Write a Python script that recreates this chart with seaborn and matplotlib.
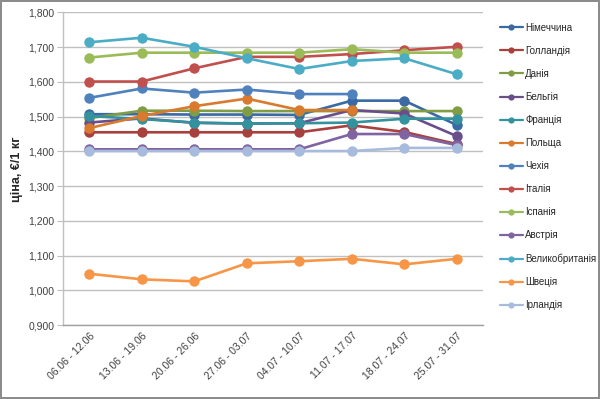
"""
weekly prices by country, line chart with markers (excel-like look)
"""
import matplotlib
matplotlib.use('Agg')
import matplotlib.pyplot as plt
import numpy as np
import pandas as pd
import seaborn as sns

sns.set_style('white')
plt.rcParams['font.family'] = ['Liberation Sans', 'DejaVu Sans']

weeks = ['06.06 - 12.06', '13.06 - 19.06', '20.06 - 26.06', '27.06 - 03.07',
         '04.07 - 10.07', '11.07 - 17.07', '18.07 - 24.07', '25.07 - 31.07']

countries = ['Німеччина', 'Голландія', 'Данія', 'Бельгія', 'Франція', 'Польща',
             'Чехія', 'Італія', 'Іспанія', 'Австрія', 'Великобританія', 'Швеція',
             'Ірландія']

germany = [1.507, 1.507, 1.506, 1.506, 1.505, 1.546, 1.546, 1.476]
netherlands = [1.455, 1.455, 1.455, 1.455, 1.455, 1.475, 1.456, 1.421]
denmark = [1.496, 1.517, 1.517, 1.516, 1.516, 1.516, 1.516, 1.516]
belgium = [1.483, 1.495, 1.482, 1.480, 1.481, 1.519, 1.509, 1.444]
france = [1.502, 1.493, 1.483, 1.480, 1.481, 1.483, 1.494, 1.494]
poland = [1.467, 1.502, 1.530, 1.552, 1.519, 1.519, np.nan, np.nan]
czechia = [1.554, 1.581, 1.569, 1.578, 1.565, 1.565, np.nan, np.nan]
italy = [1.601, 1.601, 1.639, 1.672, 1.672, 1.680, 1.691, 1.701]
spain = [1.670, 1.684, 1.684, 1.684, 1.684, 1.694, 1.684, 1.684]
austria = [1.406, 1.406, 1.406, 1.406, 1.406, 1.450, 1.450, 1.418]
uk = [1.714, 1.727, 1.701, 1.668, 1.637, 1.660, 1.668, 1.622]
sweden = [1.048, 1.032, 1.026, 1.078, 1.084, 1.091, 1.075, 1.091]
ireland = [1.401, 1.401, 1.401, 1.401, 1.401, 1.401, 1.410, 1.410]

series = [germany, netherlands, denmark, belgium, france, poland, czechia,
          italy, spain, austria, uk, sweden, ireland]

colors = ['#3b69a3', '#a8413d', '#809d45', '#6a4e8c', '#34929f', '#d97a2f',
          '#4f81bd', '#c0504d', '#9bbb59', '#8064a2', '#4bacc6', '#f79646',
          '#a7bbdc']

rows = []
for name, vals in zip(countries, series):
    for i, v in enumerate(vals):
        rows.append({'week': i, 'price': v, 'country': name})
df = pd.DataFrame(rows).dropna()

fig = plt.figure(figsize=(6, 3.99), dpi=100, edgecolor='#8c8c8c', linewidth=1.5)
ax = fig.add_axes([0.105, 0.185, 0.70, 0.784])

sns.lineplot(data=df, x='week', y='price', hue='country', hue_order=countries,
             palette=dict(zip(countries, colors)), marker='o', markersize=7.5,
             markeredgewidth=0, linewidth=1.9, ax=ax, legend=True)

handles, labels = ax.get_legend_handles_labels()
ax.get_legend().remove()
leg = fig.legend(handles, labels, loc='upper left', bbox_to_anchor=(0.818, 0.965),
                 frameon=False, fontsize=7, numpoints=1, handlelength=2.4,
                 labelspacing=1.345, handletextpad=0.25, markerscale=0.6)
for h in leg.legend_handles:
    h.set_linewidth(1.6)

ax.set_xlim(-0.5, 7.5)
ax.set_ylim(0.9, 1.8)
ax.set_yticks(np.arange(0.9, 1.801, 0.1))
ax.set_yticklabels([f'{v:.3f}'.replace('.', ',') for v in np.arange(0.9, 1.801, 0.1)])
ax.set_xticks(range(len(weeks)))
ax.set_xticklabels(weeks, rotation=45, ha='right', rotation_mode='anchor')
ax.tick_params(axis='x', length=0, labelsize=7.5, colors='#404040', pad=4)
ax.tick_params(axis='y', length=4, width=0.8, color='#bfbfbf', labelsize=7.5,
               colors='#404040', pad=2, left=True)
ax.tick_params(axis='y', labelcolor='#404040')

ax.set_xlabel('')
ax.set_ylabel('ціна, €/1 кг', fontsize=9, fontweight='bold', labelpad=4)
ax.grid(axis='y', color='#c0c0c0', linewidth=1)
ax.set_axisbelow(True)
for side in ['top', 'right']:
    ax.spines[side].set_visible(False)
ax.spines['left'].set_color('#c0c0c0')
ax.spines['bottom'].set_color('#a0a0a0')
ax.spines['left'].set_linewidth(1)
ax.spines['bottom'].set_linewidth(1)

plt.savefig('out.png', dpi=100)
plt.close()
